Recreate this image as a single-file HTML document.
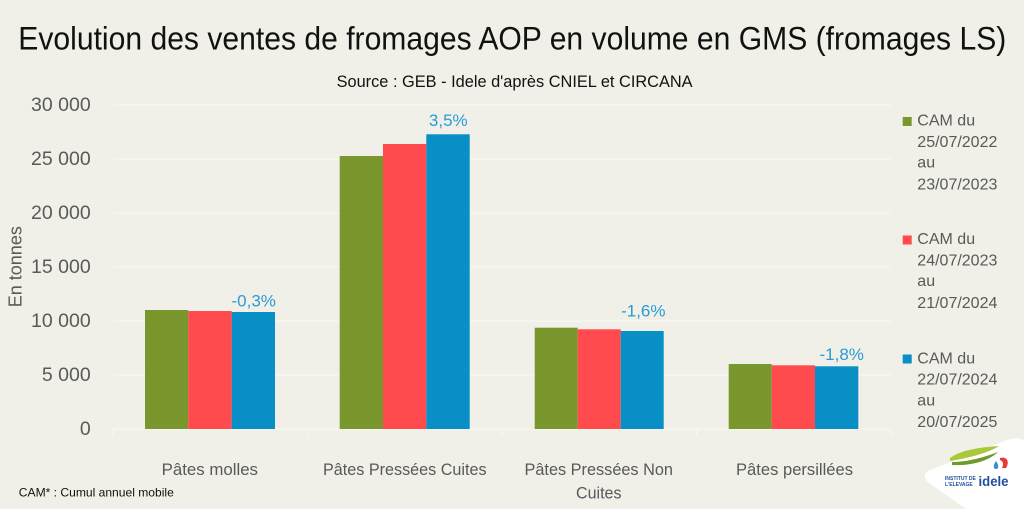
<!DOCTYPE html>
<html>
<head>
<meta charset="utf-8">
<style>
html,body{margin:0;padding:0;background:#f0f0e8;}
svg{display:block;}
text{font-family:"Liberation Sans",sans-serif;}
</style>
</head>
<body>
<svg width="1024" height="509" viewBox="0 0 1024 509" xmlns="http://www.w3.org/2000/svg">
<rect x="0" y="0" width="1024" height="509" fill="#f0f0e8"/>

<!-- Title -->
<text x="18.3" y="49.5" font-size="32" fill="#111" textLength="988" lengthAdjust="spacingAndGlyphs">Evolution des ventes de fromages AOP en volume en GMS (fromages LS)</text>
<text x="336.6" y="87" font-size="16.5" fill="#111" textLength="356" lengthAdjust="spacingAndGlyphs">Source : GEB - Idele d'après CNIEL et CIRCANA</text>

<!-- Gridlines -->
<g stroke="#f8f8f3" stroke-width="1.2">
<line x1="112.7" y1="105" x2="891" y2="105"/>
<line x1="112.7" y1="159" x2="891" y2="159"/>
<line x1="112.7" y1="213" x2="891" y2="213"/>
<line x1="112.7" y1="267" x2="891" y2="267"/>
<line x1="112.7" y1="321" x2="891" y2="321"/>
<line x1="112.7" y1="375" x2="891" y2="375"/>
<line x1="112.7" y1="429" x2="891" y2="429"/>
<line x1="112.7" y1="429" x2="112.7" y2="435"/>
<line x1="307.3" y1="429" x2="307.3" y2="435"/>
<line x1="501.9" y1="429" x2="501.9" y2="435"/>
<line x1="696.5" y1="429" x2="696.5" y2="435"/>
<line x1="891" y1="429" x2="891" y2="435"/>
</g>

<!-- Y axis labels -->
<g font-size="19.5" fill="#595959" text-anchor="end">
<text x="90.7" y="111">30 000</text>
<text x="90.7" y="165">25 000</text>
<text x="90.7" y="219">20 000</text>
<text x="90.7" y="273">15 000</text>
<text x="90.7" y="327">10 000</text>
<text x="90.7" y="381">5 000</text>
<text x="90.7" y="435">0</text>
</g>
<text x="21.5" y="266.7" font-size="18" fill="#595959" text-anchor="middle" transform="rotate(-90 21.5 266.7)">En tonnes</text>

<!-- Bars -->
<g>
<rect x="145" y="310" width="43.3" height="119" fill="#7a972d"/>
<rect x="188.3" y="311" width="43.4" height="118" fill="#ff4a4e"/>
<rect x="231.7" y="312" width="43.3" height="117" fill="#088fc6"/>

<rect x="339.7" y="156" width="43.3" height="273" fill="#7a972d"/>
<rect x="383" y="144" width="43.3" height="285" fill="#ff4a4e"/>
<rect x="426.3" y="134.3" width="43.4" height="294.7" fill="#088fc6"/>

<rect x="534.7" y="327.7" width="43" height="101.3" fill="#7a972d"/>
<rect x="577.7" y="329.3" width="43" height="99.7" fill="#ff4a4e"/>
<rect x="620.7" y="331" width="43" height="98" fill="#088fc6"/>

<rect x="728.7" y="364" width="43" height="65" fill="#7a972d"/>
<rect x="771.7" y="365.3" width="43.3" height="63.7" fill="#ff4a4e"/>
<rect x="815" y="366.3" width="43.3" height="62.7" fill="#088fc6"/>
</g>

<!-- Data labels -->
<g font-size="17" fill="#2b9bd3" text-anchor="middle">
<text x="253.7" y="306.7">-0,3%</text>
<text x="448.3" y="126">3,5%</text>
<text x="643.3" y="316.7">-1,6%</text>
<text x="841.7" y="360">-1,8%</text>
</g>

<!-- Category labels -->
<g font-size="16.5" fill="#595959">
<text x="161.6" y="475" textLength="96.4" lengthAdjust="spacingAndGlyphs">Pâtes molles</text>
<text x="323" y="475" textLength="163.6" lengthAdjust="spacingAndGlyphs">Pâtes Pressées Cuites</text>
<text x="524.5" y="475" textLength="148.5" lengthAdjust="spacingAndGlyphs">Pâtes Pressées Non</text>
<text x="576" y="498.3" textLength="45.5" lengthAdjust="spacingAndGlyphs">Cuites</text>
<text x="736" y="475" textLength="117" lengthAdjust="spacingAndGlyphs">Pâtes persillées</text>
</g>

<text x="18.8" y="496.7" font-size="12" fill="#111" textLength="155" lengthAdjust="spacingAndGlyphs">CAM* : Cumul annuel mobile</text>

<!-- Legend -->
<rect x="902.7" y="117" width="9" height="9" fill="#7a972d"/>
<rect x="902.7" y="235.5" width="9" height="9" fill="#ff4a4e"/>
<rect x="902.7" y="354.5" width="9" height="9" fill="#088fc6"/>
<g font-size="16" fill="#595959">
<text x="917.3" y="125.5">CAM du</text>
<text x="917.3" y="146.8">25/07/2022</text>
<text x="917.3" y="167.5">au</text>
<text x="917.3" y="189.4">23/07/2023</text>

<text x="917.3" y="244">CAM du</text>
<text x="917.3" y="265.3">24/07/2023</text>
<text x="917.3" y="286">au</text>
<text x="917.3" y="307.9">21/07/2024</text>

<text x="917.3" y="363.3">CAM du</text>
<text x="917.3" y="384.6">22/07/2024</text>
<text x="917.3" y="405.3">au</text>
<text x="917.3" y="427">20/07/2025</text>
</g>

<!-- Logo -->
<path d="M928,471 C922,476 925,481 932,485 L966,509 L1024,509 L1024,441 C1019,437 1013,438 1007,440 Z" fill="#ffffff"/>
<path d="M950,458 C962,449 985,447 999,446 C990,452 970,458 950,461 Z" fill="#a9c83a"/>
<path d="M952,462 C968,462 985,457 998,452 C988,462 968,466 952,465 Z" fill="#6f9a2a"/>
<path d="M1000,458 C1007,456 1010,462 1006,468 L1002,468 C1004,464 1003,461 1000,460 Z" fill="#e63a3a"/>
<path d="M996,461 C993,465 993,469 996,469 C999,469 999,465 996,461 Z" fill="#3b8fd0"/>
<text x="945" y="480" font-size="5" font-weight="bold" fill="#1f4e9c">INSTITUT DE</text>
<text x="945" y="486" font-size="5" font-weight="bold" fill="#1f4e9c">L'ELEVAGE</text>
<text x="978.5" y="486" font-size="14" font-weight="bold" fill="#1f4e9c" textLength="30" lengthAdjust="spacingAndGlyphs">idele</text>
</svg>
</body>
</html>
